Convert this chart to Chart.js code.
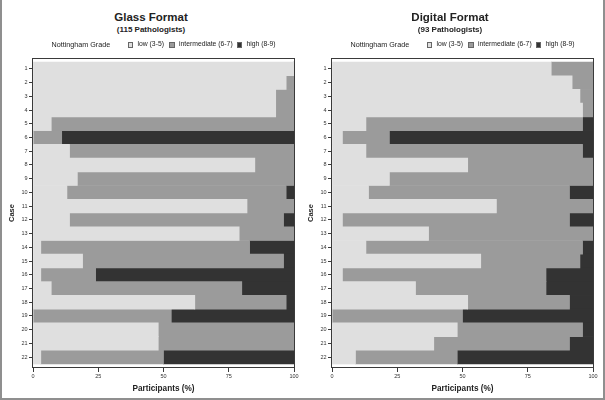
<!DOCTYPE html>
<html>
<head>
<meta charset="utf-8">
<script src="https://cdn.jsdelivr.net/npm/chart.js@4.4.0/dist/chart.umd.min.js"></script>
<style>
  html, body { margin: 0; padding: 0; background: #fff; }
  body { width: 605px; height: 400px; position: relative; overflow: hidden;
         font-family: "Liberation Sans", Arial, Helvetica, sans-serif; color: #222; }
  .outline { position: absolute; left: 0; top: 0; width: 601px; height: 398px;
             border-left: 2px solid #8f8f8f; border-right: 2px solid #8f8f8f; border-bottom: 2px solid #8f8f8f; }
  .panel { position: absolute; top: 0; width: 300px; height: 400px; }
  #glassPanel { left: 0; }
  #digitalPanel { left: 299px; }
  .panel canvas { position: absolute; left: 0; top: 0; }
  .title { position: absolute; left: 0; width: 302px; text-align: center; font-weight: bold; line-height: normal; }
  .title.main { top: 10.6px; font-size: 11.5px; }
  .title.sub { top: 25.2px; font-size: 8px; }
  .legend { position: absolute; top: 40px; left: 0; width: 300px; height: 10px; font-size: 6.8px; line-height: normal;
            color: #222; will-change: transform; }
  .legend span { position: absolute; white-space: nowrap; color: #222; }
  .legend span.head { font-size: 7.2px; top: -0.3px; }
  .legend i { position: absolute; top: 2px; width: 3.5px; height: 3.5px; border: 0.5px solid #666; }
</style>
</head>
<body>
<div class="outline"></div>
<div class="panel" id="glassPanel">
  <div class="title main">Glass Format</div>
  <div class="title sub">(115 Pathologists)</div>
  <div class="legend" id="glassLegend"></div>
  <canvas id="glassChart" width="300" height="400"></canvas>
</div>
<div class="panel" id="digitalPanel">
  <div class="title main">Digital Format</div>
  <div class="title sub">(93 Pathologists)</div>
  <div class="legend" id="digitalLegend"></div>
  <canvas id="digitalChart" width="300" height="400"></canvas>
</div>

<script>
// cases down the y axis, participants (%) per grade
const cases = [1, 2, 3, 4, 5, 6, 7, 8, 9, 10, 11, 12, 13, 14, 15, 16, 17, 18, 19, 20, 21, 22];
const xTicks = [0, 25, 50, 75, 100];
const gradeLabels = ['low (3-5)', 'intermediate (6-7)', 'high (8-9)'];
const gradeColors = ['#dfdfdf', '#9b9b9b', '#333333'];

const glassLow  = [100, 97, 93, 93, 7, 0, 14, 85, 17, 13, 82, 14, 79, 3, 19, 3, 7, 62, 0, 48, 48, 3];
const glassMid  = [0, 3, 7, 7, 93, 11, 86, 15, 83, 84, 18, 82, 21, 80, 77, 21, 73, 35, 53, 52, 52, 47];
const glassHigh = [0, 0, 0, 0, 0, 89, 0, 0, 0, 3, 0, 4, 0, 17, 4, 76, 20, 3, 47, 0, 0, 50];

const digitalLow  = [84, 92, 95, 96, 13, 4, 13, 52, 22, 14, 63, 4, 37, 13, 57, 4, 32, 52, 0, 48, 39, 9];
const digitalMid  = [16, 8, 5, 4, 83, 18, 83, 48, 78, 77, 37, 87, 63, 83, 38, 78, 50, 39, 50, 48, 52, 39];
const digitalHigh = [0, 0, 0, 0, 4, 78, 4, 0, 0, 9, 0, 9, 0, 4, 5, 18, 18, 9, 50, 4, 9, 52];

// legend: "Nottingham Grade" then one box + label per grade
function buildLegend(el) {
  const head = document.createElement('span');
  head.className = 'head';
  head.textContent = 'Nottingham Grade';
  head.style.left = '51.5px';
  el.appendChild(head);
  const boxLeft = [127.5, 169, 236.5];
  gradeLabels.forEach((g, i) => {
    const box = document.createElement('i');
    box.style.left = boxLeft[i] + 'px';
    box.style.background = gradeColors[i];
    el.appendChild(box);
    const txt = document.createElement('span');
    txt.textContent = g;
    txt.style.left = (boxLeft[i] + 10) + 'px';
    el.appendChild(txt);
  });
}

// box around the plot area
const framePlugin = {
  id: 'frame',
  afterDraw(chart) {
    const a = chart.chartArea;
    const ctx = chart.ctx;
    ctx.save();
    ctx.strokeStyle = '#3a3a3a';
    ctx.lineWidth = 1;
    ctx.strokeRect(Math.round(a.left) - 0.5, Math.round(a.top) + 0.5,
                   Math.round(a.right - a.left) + 1, Math.round(a.bottom - a.top) - 1);
    ctx.restore();
  }
};

function makeChart(id, low, mid, high) {
  const series = [low, mid, high];
  new Chart(document.getElementById(id), {
    type: 'bar',
    data: {
      labels: cases,
      datasets: series.map((vals, k) => ({
        label: gradeLabels[k],
        data: vals.map((v, i) => ({ x: v, y: cases[i] })),
        backgroundColor: gradeColors[k],
        borderWidth: 0,
        barPercentage: 1,
        categoryPercentage: 1
      }))
    },
    options: {
      indexAxis: 'y',
      responsive: false,
      animation: false,
      layout: { padding: { left: 0, top: 58, right: 6, bottom: 0 } },
      plugins: { legend: { display: false }, tooltip: { enabled: false } },
      scales: {
        x: {
          type: 'linear',
          stacked: true,
          min: 0,
          max: 100,
          afterBuildTicks: s => { s.ticks = xTicks.map(v => ({ value: v })); },
          afterFit: s => { s.height = 32; },
          grid: { display: true, drawOnChartArea: false, tickLength: 4, color: '#3a3a3a' },
          border: { display: false },
          ticks: { padding: 1, maxRotation: 0, color: '#333', font: { size: 5.5 } },
          title: { display: true, text: 'Participants (%)', color: '#222',
                   font: { size: 8.2, weight: 'bold' }, padding: { top: 0, bottom: 6.6 } }
        },
        y: {
          type: 'linear',
          stacked: true,
          reverse: true,
          offset: false,
          min: 0.21,
          max: 22.79,
          afterBuildTicks: s => { s.ticks = cases.map(v => ({ value: v })); },
          afterFit: s => { s.width = 33; },
          grid: { display: true, drawOnChartArea: false, offset: false, tickLength: 4, color: '#3a3a3a' },
          border: { display: false },
          ticks: { padding: 1.5, color: '#333', font: { size: 5.5 } },
          title: { display: true, text: 'Case', color: '#222',
                   font: { size: 7.5, weight: 'bold' }, padding: { top: 7, bottom: 0 } }
        }
      }
    },
    plugins: [framePlugin]
  });
}

Chart.defaults.font.family = '"Liberation Sans", Arial, Helvetica, sans-serif';
buildLegend(document.getElementById('glassLegend'));
buildLegend(document.getElementById('digitalLegend'));
makeChart('glassChart', glassLow, glassMid, glassHigh);
makeChart('digitalChart', digitalLow, digitalMid, digitalHigh);
</script>
</body>
</html>
